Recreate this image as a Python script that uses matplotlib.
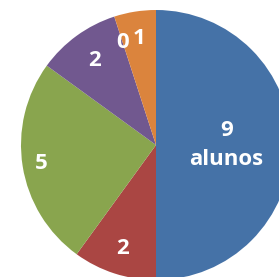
import numpy as np
import matplotlib
matplotlib.use('Agg')
from matplotlib import pyplot as plt

# slice sizes (angles), labels as printed
sizes = [10, 2, 5, 2, 0, 1]
labels = ['9\nalunos', '2', '5', '2', '0', '1']
colors = ['#4572A7', '#AA4643', '#89A54E', '#71588F', '#4BACC6', '#DB843D']
label_dist = [0.52, 0.81, 0.86, 0.77, 0.80, 0.80]

W, H = 279, 277
fig = plt.figure(figsize=(W / 100, H / 100), dpi=100)
ax = fig.add_axes([0, 0, 1, 1])

cx, cy, r = 156, H - 145, 135
wedges, _ = ax.pie(sizes, colors=colors, startangle=90, counterclock=False,
                   center=(cx, cy), radius=r,
                   wedgeprops=dict(linewidth=0))

for w, lab, d in zip(wedges, labels, label_dist):
    th = np.deg2rad((w.theta1 + w.theta2) / 2)
    ax.text(cx + d * r * np.cos(th), cy + d * r * np.sin(th), lab,
            color='white', fontsize=16, fontweight='bold', family='Open Sans',
            ha='center', va='center', linespacing=1.45)

ax.set_xlim(0, W)
ax.set_ylim(0, H)
ax.set_aspect('auto')
ax.axis('off')

fig.savefig('out.png', dpi=100)
